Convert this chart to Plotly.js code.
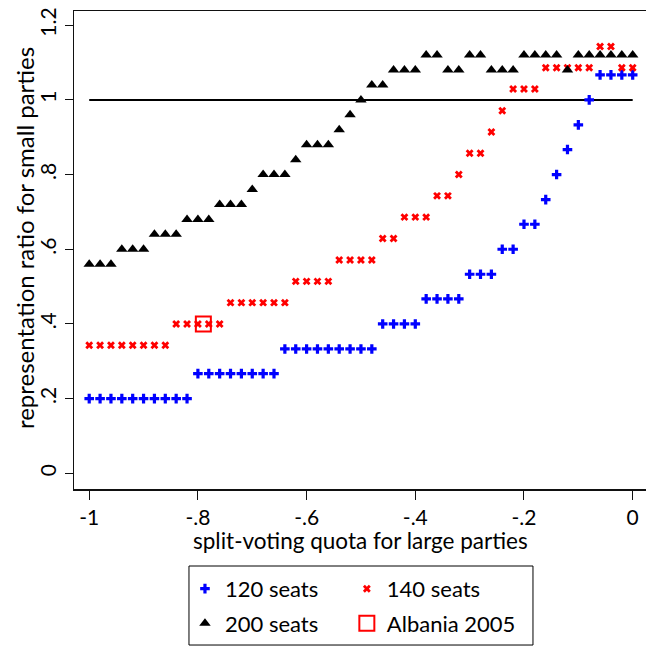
<!DOCTYPE html>
<html>
<head>
<meta charset="utf-8">
<script src="https://cdn.plot.ly/plotly-3.0.1.min.js"></script>
<style>html,body{margin:0;padding:0;background:#fff;}#chart{width:646px;height:648px;}</style>
</head>
<body>
<div id="chart"></div>
<script>
// split-voting quota for large parties (x)
const quota = [-1.00,-0.98,-0.96,-0.94,-0.92,-0.90,-0.88,-0.86,-0.84,-0.82,
  -0.80,-0.78,-0.76,-0.74,-0.72,-0.70,-0.68,-0.66,-0.64,-0.62,
  -0.60,-0.58,-0.56,-0.54,-0.52,-0.50,-0.48,-0.46,-0.44,-0.42,
  -0.40,-0.38,-0.36,-0.34,-0.32,-0.30,-0.28,-0.26,-0.24,-0.22,
  -0.20,-0.18,-0.16,-0.14,-0.12,-0.10,-0.08,-0.06,-0.04,-0.02,0.00];

// representation ratio for small parties
const seats120 = [0.2,0.2,0.2,0.2,0.2,0.2,0.2,0.2,0.2,0.2,
  0.267,0.267,0.267,0.267,0.267,0.267,0.267,0.267,
  0.333,0.333,0.333,0.333,0.333,0.333,0.333,0.333,0.333,
  0.4,0.4,0.4,0.4,
  0.467,0.467,0.467,0.467,
  0.533,0.533,0.533,
  0.6,0.6,
  0.667,0.667,
  0.733,0.8,0.867,0.933,1.0,
  1.067,1.067,1.067,1.067];

const seats140 = [0.343,0.343,0.343,0.343,0.343,0.343,0.343,0.343,
  0.4,0.4,0.4,0.4,0.4,
  0.457,0.457,0.457,0.457,0.457,0.457,
  0.514,0.514,0.514,0.514,
  0.571,0.571,0.571,0.571,
  0.629,0.629,
  0.686,0.686,0.686,
  0.743,0.743,
  0.8,
  0.857,0.857,
  0.914,0.971,
  1.029,1.029,1.029,
  1.086,1.086,1.086,1.086,1.086,
  1.143,1.143,
  1.086,1.086];

const seats200 = [0.56,0.56,0.56,0.6,0.6,0.6,0.64,0.64,0.64,0.68,
  0.68,0.68,0.72,0.72,0.72,0.76,0.8,0.8,0.8,0.84,
  0.88,0.88,0.88,0.92,0.96,1.0,1.04,1.04,1.08,1.08,
  1.08,1.12,1.12,1.08,1.08,1.12,1.12,1.08,1.08,1.08,
  1.12,1.12,1.12,1.12,1.08,1.12,1.12,1.12,1.12,1.12,1.12];

const albaniaX = [-0.79];
const albaniaY = [0.4];

const refLineX = [-1, 0];
const refLineY = [1, 1];

const yTickVals = [0, 0.2, 0.4, 0.6, 0.8, 1, 1.2];
const yTickText = ['0', '.2', '.4', '.6', '.8', '1', '1.2'];
const xTickVals = [-1, -0.8, -0.6, -0.4, -0.2, 0];
const xTickText = ['-1', '-.8', '-.6', '-.4', '-.2', '0'];

const FONT = 'Lato, "Open Sans", sans-serif';

const traces = [
  {x: refLineX, y: refLineY, mode: 'lines', line: {color: '#000', width: 2}, showlegend: false, hoverinfo: 'skip'},
  {x: quota, y: seats120, mode: 'markers', name: '120 seats', legend: 'legend', legendgroup: 'a',
   marker: {symbol: 'cross', size: 8, color: '#0000ff'}},
  {x: quota, y: seats140, mode: 'markers', name: '140 seats', legend: 'legend2', legendgroup: 'b',
   marker: {symbol: 'x', size: 7, color: '#ff0000'}},
  {x: quota, y: seats200, mode: 'markers', name: '200 seats', legend: 'legend', legendgroup: 'c',
   marker: {symbol: 'triangle-up', size: 10, color: '#000'}},
  {x: albaniaX, y: albaniaY, mode: 'markers', name: 'Albania 2005', legend: 'legend2', legendgroup: 'd',
   marker: {symbol: 'square-open', size: 15, color: '#ff0000', line: {width: 2}}}
];

const legendCommon = {
  yanchor: 'top', xanchor: 'left', orientation: 'v',
  bgcolor: 'rgba(0,0,0,0)', borderwidth: 0,
  font: {family: FONT, size: 22, color: '#000'},
  tracegroupgap: 3
};

const layout = {
  width: 646, height: 648,
  margin: {l: 74, r: 0, t: 11, b: 159},
  paper_bgcolor: '#fff', plot_bgcolor: '#fff',
  font: {family: FONT, size: 20, color: '#000'},
  xaxis: {
    range: [-1.028, 0.0245], showgrid: false, zeroline: false,
    showline: true, linecolor: '#111', linewidth: 1.5, mirror: true,
    ticks: 'outside', ticklen: 9, tickwidth: 1, tickcolor: '#111',
    tickvals: xTickVals, ticktext: xTickText, tickfont: {family: FONT, size: 21}
  },
  yaxis: {
    range: [-0.042, 1.238], showgrid: false, zeroline: false,
    showline: true, linecolor: '#111', linewidth: 1.5,
    ticks: 'outside', ticklen: 8, tickwidth: 1, tickcolor: '#111',
    tickvals: yTickVals, ticktext: yTickText, tickangle: -90, tickfont: {family: FONT, size: 21}
  },
  showlegend: true,
  legend: Object.assign({x: 0.194, y: -0.165}, legendCommon),
  legend2: Object.assign({x: 0.477, y: -0.165}, legendCommon),
  shapes: [
    {type: 'rect', xref: 'paper', yref: 'paper', x0: 0.201, x1: 0.8024, y0: -0.1611, y1: -0.3264,
     line: {color: '#000', width: 1}, fillcolor: 'rgba(0,0,0,0)'}
  ],
  annotations: [
    {text: 'split-voting quota for large parties', xref: 'paper', yref: 'paper', x: 0.5, y: -0.1067,
     xanchor: 'center', yanchor: 'middle', showarrow: false, font: {family: FONT, size: 22.5}},
    {text: 'representation ratio for small parties', xref: 'paper', yref: 'paper', x: -0.0874, y: 0.525,
     xanchor: 'center', yanchor: 'middle', textangle: -90, showarrow: false, font: {family: FONT, size: 24}}
  ]
};

Plotly.newPlot('chart', traces, layout, {displayModeBar: false, staticPlot: true});
</script>
</body>
</html>
